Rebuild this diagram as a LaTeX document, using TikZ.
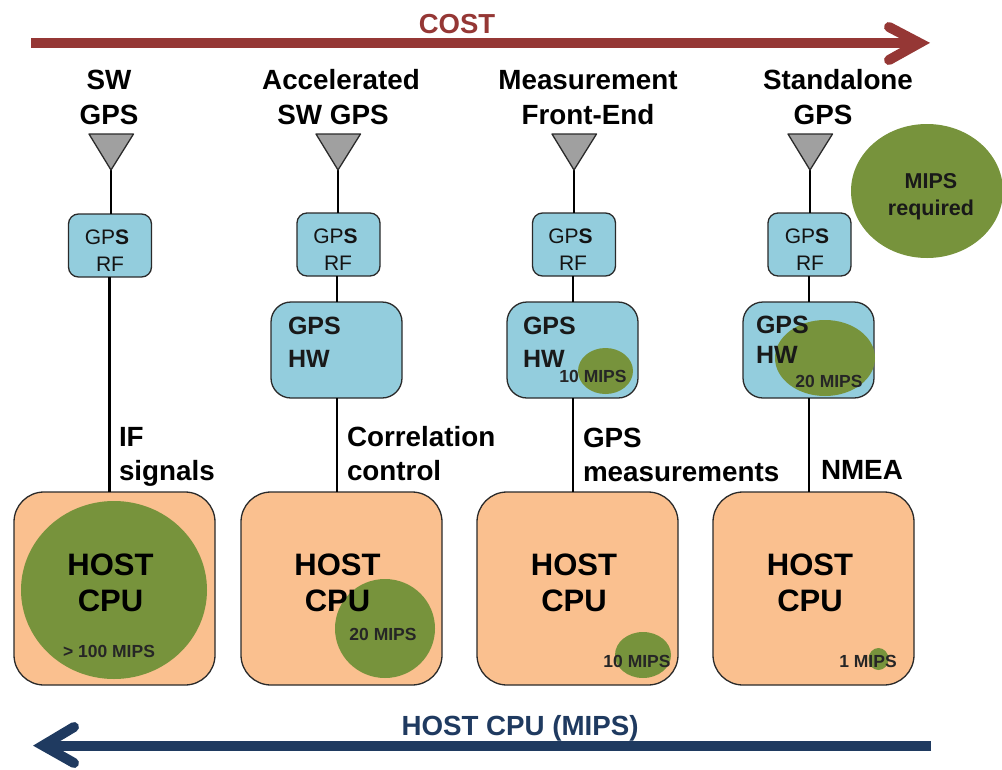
\documentclass[tikz,border=0pt]{standalone}
\usepackage{fontspec}
\setmainfont{Liberation Sans}
\usetikzlibrary{shapes.geometric}
\definecolor{costred}{HTML}{953735}
\definecolor{hostblue}{HTML}{1F3A60}
\definecolor{boxblue}{HTML}{93CDDD}
\definecolor{boxorange}{HTML}{FAC08F}
\definecolor{mipsgreen}{HTML}{77933C}
\definecolor{antgray}{HTML}{A0A0A0}
\definecolor{edgegray}{HTML}{2A2A2A}
\tikzset{
  x=1pt,y=-1pt,
  every node/.style={inner sep=0pt,outer sep=0pt},
  rfbox/.style={draw=edgegray,line width=1.3pt,fill=boxblue,rounded corners=10pt,minimum width=83pt,minimum height=63pt},
  hwbox/.style={draw=edgegray,line width=1.3pt,fill=boxblue,rounded corners=20pt,minimum width=131pt,minimum height=96pt},
  hostbox/.style={draw=edgegray,line width=1.3pt,fill=boxorange,rounded corners=30pt,minimum width=201pt,minimum height=193pt},
  mips/.style={ellipse,fill=mipsgreen,draw=none},
  antenna/.style={draw=edgegray,line width=1.3pt,fill=antgray,line join=round},
  link/.style={draw=black,line width=2.4pt},
  bigarrow/.style={line width=10pt},
  archlabel/.style={font=\fontsize{27.8}{35}\selectfont\bfseries,align=center,anchor=base},
  sigl/.style={font=\fontsize{27.8}{34}\selectfont\bfseries,align=left,anchor=base west},
  rft/.style={font=\fontsize{21}{27}\selectfont,align=center,anchor=base,text=black!92},
  hwt/.style={font=\fontsize{25}{33}\selectfont\bfseries,align=left,anchor=base west,text=black!90},
  hostt/.style={font=\fontsize{31}{36}\selectfont\bfseries,align=center,anchor=base},
  smallt/.style={font=\fontsize{17.5}{20}\selectfont\bfseries,anchor=base,text=black!85},
  legendt/.style={font=\fontsize{21.5}{27}\selectfont\bfseries,align=center,anchor=base,text=black!90},
}
\begin{document}
\begin{tikzpicture}
\useasboundingbox (0,0) rectangle (1002,769);
% arrows
\coordinate (costa) at (31,43);
\coordinate (costb) at (919.5,43);
\coordinate (costu) at (889,27);
\coordinate (costd) at (889,60);
\draw[bigarrow,costred] (costa) -- (costb);
\draw[bigarrow,costred,line cap=round,miter limit=10] (costu) -- (costb) -- (costd);
\coordinate (hosta) at (931,745.5);
\coordinate (hostb) at (43,745.5);
\coordinate (hostu) at (74,727);
\coordinate (hostd) at (74,763);
\draw[bigarrow,hostblue] (hosta) -- (hostb);
\draw[bigarrow,hostblue,line cap=round,miter limit=10] (hostu) -- (hostb) -- (hostd);
\node[font=\fontsize{27.5}{30}\selectfont\bfseries,text=costred,anchor=base] (costt) at (457,33) {COST};
\node[font=\fontsize{27.7}{30}\selectfont\bfseries,text=hostblue,anchor=base] (hostt) at (520,735) {HOST CPU (MIPS)};
% antenna tips
\coordinate (t1) at (111,170);
\coordinate (t2) at (338,170);
\coordinate (t3) at (574,170);
\coordinate (t4) at (810,170);
% boxes
\node[rfbox] (rf1) at (110,245.5) {};
\node[rfbox] (rf2) at (338.5,244.5) {};
\node[rfbox] (rf3) at (574,244.5) {};
\node[rfbox] (rf4) at (809.5,244.5) {};
\node[hwbox] (hw2) at (336.5,350) {};
\node[hwbox] (hw3) at (572.5,350) {};
\node[hwbox] (hw4) at (808.5,350) {};
\node[hostbox] (host1) at (114.5,588.5) {};
\node[hostbox] (host2) at (341.5,588.5) {};
\node[hostbox] (host3) at (577.5,588.5) {};
\node[hostbox] (host4) at (813.5,588.5) {};
% links
\draw[link] (t1) -- (t1 |- rf1.north);
\draw[link] (t2) -- (t2 |- rf2.north);
\draw[link] (t3) -- (t3 |- rf3.north);
\draw[link] (t4) -- (t4 |- rf4.north);
\coordinate (c1) at (109.5,277);
\draw[link] (c1) -- (c1 |- host1.north);
\coordinate (c2) at (337,276);
\draw[link] (c2) -- (c2 |- hw2.north);
\coordinate (c3) at (573,276);
\draw[link] (c3) -- (c3 |- hw3.north);
\coordinate (c4) at (809,276);
\draw[link] (c4) -- (c4 |- hw4.north);
\coordinate (d2) at (337,398);
\draw[link] (d2) -- (d2 |- host2.north);
\coordinate (d3) at (573,398);
\draw[link] (d3) -- (d3 |- host3.north);
\coordinate (d4) at (809,398);
\draw[link] (d4) -- (d4 |- host4.north);
% antennas
\draw[antenna] (89,134) -- (133.5,134) -- (t1) -- cycle;
\draw[antenna] (316,134) -- (360.5,134) -- (t2) -- cycle;
\draw[antenna] (552,134) -- (596.5,134) -- (t3) -- cycle;
\draw[antenna] (788,134) -- (832.5,134) -- (t4) -- cycle;
% MIPS ellipses
\node[mips,minimum width=152pt,minimum height=134pt] (mlegend) at (927,191) {};
\node[mips,minimum width=55pt,minimum height=46pt] (m3a) at (605.5,371) {};
\node[mips,minimum width=100pt,minimum height=76pt] (m4a) at (825,358) {};
\node[mips,minimum width=186pt,minimum height=178pt] (m1) at (114,590) {};
\node[mips,minimum width=100pt,minimum height=99pt] (m2) at (385,628.5) {};
\node[mips,minimum width=56pt,minimum height=46pt] (m3) at (643,655) {};
\node[mips,minimum width=20pt,minimum height=22pt] (m4) at (878.5,659) {};
% column labels
\node[archlabel] (a1) at (109,124) {SW\\GPS};
\node[archlabel] (a2) at (341,124) {Accelerated\\SW GPS\hspace*{16pt}};
\node[archlabel] (a3) at (588,124) {Measurement\\Front-End};
\node[archlabel] (a4) at (838,124) {Standalone\\GPS\hspace*{30pt}};
% RF labels
\node[rft] (r1) at (110,271) {GP{\bfseries S}\hspace*{6pt}\\RF};
\node[rft] (r2) at (338,270) {GP{\bfseries S}\hspace*{5pt}\\RF};
\node[rft] (r3) at (573,270) {GP{\bfseries S}\hspace*{5pt}\\RF};
\node[rft] (r4) at (810,270) {GP{\bfseries S}\hspace*{6pt}\\RF};
% HW labels
\node[hwt] (h2) at (288,367) {GPS\\HW};
\node[hwt] (h3) at (523,367) {GPS\\HW};
\node[hwt,font=\fontsize{25}{30}\selectfont\bfseries] (h4) at (756,363) {GPS\\HW};
% signal labels
\node[sigl] (s1) at (119,480) {IF\\signals};
\node[sigl] (s2) at (347,480) {Correlation\\control};
\node[sigl] (s3) at (583,481) {GPS\\measurements};
\node[sigl] (s4) at (821,479) {NMEA};
% host labels
\node[hostt] (p1) at (110.5,611) {HOST\\CPU};
\node[hostt] (p2) at (337.5,611) {HOST\\CPU};
\node[hostt] (p3) at (574,611) {HOST\\CPU};
\node[hostt] (p4) at (810,611) {HOST\\CPU};
% small
\node[smallt] (q1) at (109,657) {> 100 MIPS};
\node[smallt] (q2) at (383,640) {20 MIPS};
\node[smallt] (q3) at (637,667) {10 MIPS};
\node[smallt] (q4) at (868,667) {1 MIPS};
\node[smallt] (q5) at (593,382) {10 MIPS};
\node[smallt] (q6) at (829,387) {20 MIPS};
\node[legendt] (lg) at (931,215) {MIPS\\required};
\end{tikzpicture}
\end{document}
